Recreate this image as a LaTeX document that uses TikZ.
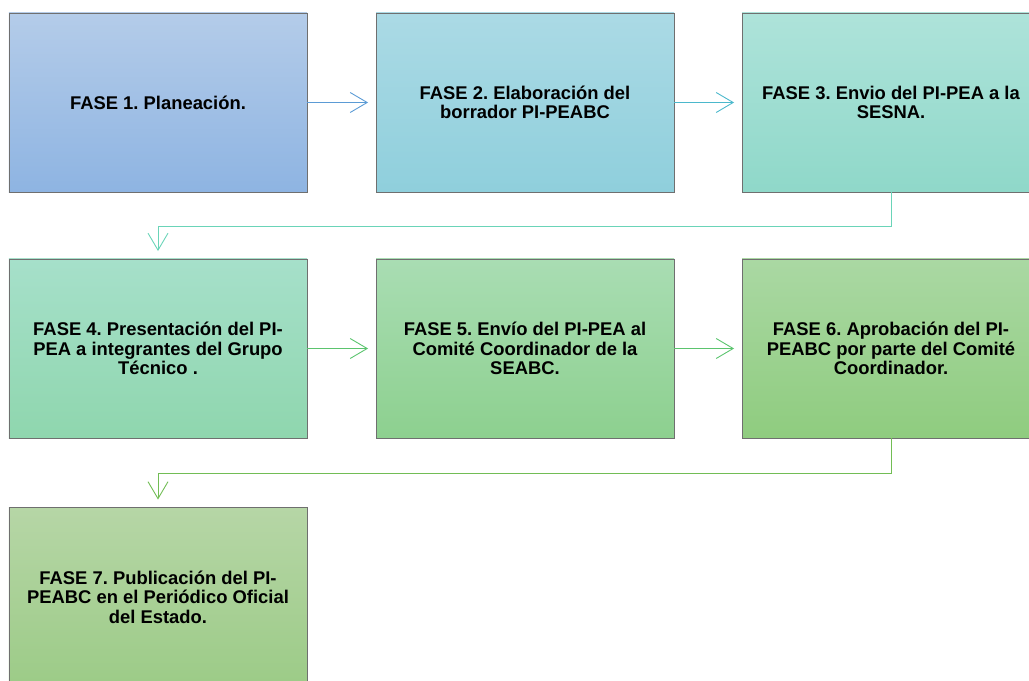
\documentclass[tikz,border=0pt]{standalone}
\usepackage{fontspec}
\setmainfont{Liberation Sans}
\frenchspacing
\usetikzlibrary{arrows.meta}
\definecolor{t1}{HTML}{B4CCE9}\definecolor{b1}{HTML}{8EB4E2}
\definecolor{t2}{HTML}{ABDAE5}\definecolor{b2}{HTML}{8FCFDC}
\definecolor{t3}{HTML}{AEE3DA}\definecolor{b3}{HTML}{8FD8C9}
\definecolor{t4}{HTML}{A6E0CA}\definecolor{b4}{HTML}{8FD6AE}
\definecolor{t5}{HTML}{A9DDB3}\definecolor{b5}{HTML}{8DD08F}
\definecolor{t6}{HTML}{AAD8A3}\definecolor{b6}{HTML}{8FCC7F}
\definecolor{t7}{HTML}{B6D6A6}\definecolor{b7}{HTML}{9CCB87}
\definecolor{a1}{HTML}{5B9BD5}
\definecolor{a2}{HTML}{4BB8CC}
\definecolor{a3}{HTML}{6AD4B8}
\definecolor{a4}{HTML}{5BC46E}
\definecolor{a5}{HTML}{72BD55}
\definecolor{bord}{HTML}{6F6F6F}
\tikzset{
  phase/.style 2 args={draw=bord, line width=0.9bp, top color=#1, bottom color=#2,
    minimum width=298bp, minimum height=179bp, inner sep=0pt,
    align=center, font=\fontsize{18.4bp}{19.6bp}\selectfont\bfseries},
  flow/.style={line width=0.9bp, draw=#1, -{Straight Barb[length=17bp,width=20bp,line width=0.9bp]}, shorten >=7.5bp}
}
\begin{document}
\begin{tikzpicture}[x=1bp,y=-1bp]
\useasboundingbox (0,0) rectangle (1029,681);
\clip (0,0) rectangle (1029,681);
\node[phase={t1}{b1}] (f1) at (158,102.5) {FASE 1. Planeación.};
\node[phase={t2}{b2}] (f2) at (525,102.5) {FASE 2. Elaboración del\\borrador PI-PEABC};
\node[phase={t3}{b3}] (f3) at (891,102.5) {FASE 3. Envio del PI-PEA a la\\SESNA.};
\node[phase={t4}{b4}] (f4) at (158,348.5) {FASE 4. Presentación del PI-\\PEA a integrantes del Grupo\\Técnico .};
\node[phase={t5}{b5}] (f5) at (525,348.5) {FASE 5. Envío del PI-PEA al\\Comité Coordinador de la\\SEABC.};
\node[phase={t6}{b6}] (f6) at (891,348.5) {FASE 6. Aprobación del PI-\\PEABC por parte del Comité\\Coordinador.};
\node[phase={t7}{b7}] (f7) at (158,597) {FASE 7. Publicación del PI-\\PEABC en el Periódico Oficial\\del Estado.};
\draw[flow=a1] (f1.east) -- (f2.west);
\draw[flow=a2] (f2.east) -- (f3.west);
\draw[flow=a3] (f3.south) -- ++(0,34) -| (f4.north);
\draw[flow=a4] (f4.east) -- (f5.west);
\draw[flow=a4] (f5.east) -- (f6.west);
\draw[flow=a5] (f6.south) -- ++(0,34.5) -| (f7.north);
\end{tikzpicture}
\end{document}
